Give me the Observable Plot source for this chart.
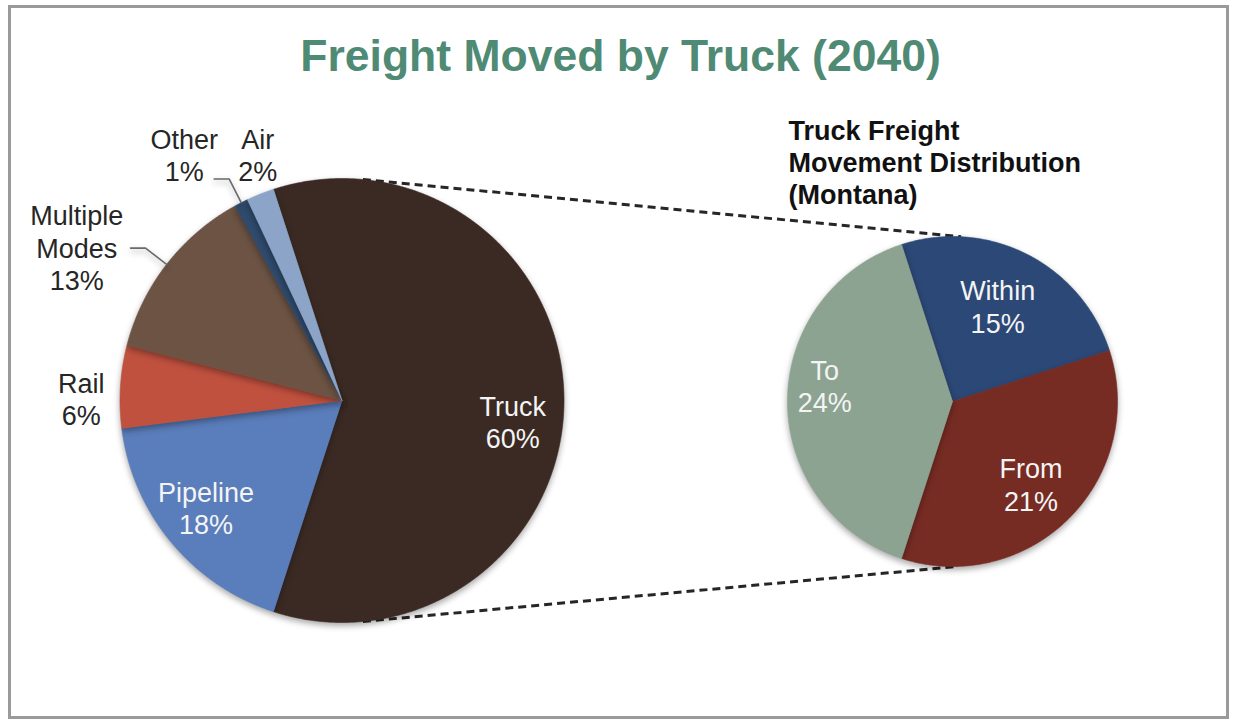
<!DOCTYPE html>
<html>
<head>
<meta charset="utf-8">
<script src="https://cdn.jsdelivr.net/npm/d3@7"></script>
<script src="https://cdn.jsdelivr.net/npm/@observablehq/plot@0.6"></script>
<style>
  html, body { margin: 0; padding: 0; background: #ffffff; }
  #chart svg { display: block; }
  .pies g[aria-label="line"] { filter: drop-shadow(0px 3px 3px rgba(0,0,0,0.35)); }
</style>
</head>
<body>
<div id="chart"></div>
<script>
// ---------- data ----------
const titleText = "Freight Moved by Truck (2040)";
const subtitleText = "Truck Freight\nMovement Distribution\n(Montana)";

const modes = ["Truck", "Pipeline", "Rail", "Multiple Modes", "Other", "Air"];
const modeShares = [60, 18, 6, 13, 1, 2];
const modeColors = ["#3b2a24", "#5a7dbb", "#c0513f", "#6c5344", "#2f4a6c", "#8ba4c7"];

const directions = ["Within", "From", "To"];
const directionShares = [15, 21, 24];
const directionColors = ["#2c4877", "#772c23", "#8da392"];

// ---------- layout ----------
const W = 1233, H = 721;
const FONT = "'Liberation Sans', Arial, Helvetica, sans-serif";
const LBL = 27;
const leftPie = {cx: 341.5, cy: 400, r: 222};
const rightPie = {cx: 952, cy: 401, r: 165};
const deg = Math.PI / 180;

// label placement: [radius factor, angle shift in degrees]
const modeLabelPlace = [[0.775, 7], [0.78, 1.4], [1.175, -3.2], [1.38, -7.8], [1.316, -5.7], [1.17, 2.7]];
const modeLeader = [false, false, false, true, true, false];
const directionLabelPlace = [[0.64, -1.7], [0.69, 1.4], [0.78, 7]];

// ---------- geometry from data ----------
const total = d3.sum(modeShares);
const startA = Math.PI / 2 - (modeShares[0] / total) * Math.PI; // split slice centred on the right
const pieGen = d3.pie().sort(null).startAngle(startA).endAngle(startA + 2 * Math.PI);

const pt = (pie, a, rr) => [pie.cx + rr * Math.sin(a), pie.cy - rr * Math.cos(a)];

function slicePoints(pie, arcs, keys, colors) {
  return arcs.map((a, i) => {
    const pts = [{x: pie.cx, y: pie.cy}];
    const n = Math.max(2, Math.ceil((a.endAngle - a.startAngle) / (0.4 * deg)));
    for (let k = 0; k <= n; k++) {
      const ang = a.startAngle + (a.endAngle - a.startAngle) * k / n;
      const [x, y] = pt(pie, ang, pie.r);
      pts.push({x, y});
    }
    pts.push({x: pie.cx, y: pie.cy});
    return {key: keys[i], color: colors[i], pts};
  });
}

const modeArcs = pieGen(modeShares);
const dirArcs = pieGen(directionShares);
const modeSlices = slicePoints(leftPie, modeArcs, modes, modeColors);
const dirSlices = slicePoints(rightPie, dirArcs, directions, directionColors);

const mid = a => (a.startAngle + a.endAngle) / 2;

const modeLabelData = modeArcs.map((a, i) => {
  const [f, s] = modeLabelPlace[i];
  const [x, y] = pt(leftPie, mid(a) + s * deg, leftPie.r * f);
  const inside = f < 1;
  return {x, y, text: modes[i].replace(" ", "\n") + "\n" + modeShares[i] + "%", fill: inside ? "#f4f4f4" : "#262626"};
});
const dirLabelData = dirArcs.map((a, i) => {
  const [f, s] = directionLabelPlace[i];
  const [x, y] = pt(rightPie, mid(a) + s * deg, rightPie.r * f);
  return {x, y, text: directions[i] + "\n" + directionShares[i] + "%", fill: "#f4f4f4"};
});
const labelData = modeLabelData.concat(dirLabelData);

// leader lines
const leaders = [];
modeArcs.forEach((a, i) => {
  if (!modeLeader[i]) return;
  const m = mid(a);
  const [x0, y0] = pt(leftPie, m, leftPie.r);
  const [x1, y1] = pt(leftPie, m, leftPie.r * 1.12);
  leaders.push({k: i, x: x0, y: y0}, {k: i, x: x1, y: y1}, {k: i, x: x1 - 15, y: y1});
});

// dashed connectors between pies
const conn = [
  (() => { const [x1, y1] = pt(leftPie, 5.4 * deg, leftPie.r); const [x2, y2] = pt(rightPie, 3 * deg, rightPie.r); return {x1, y1, x2, y2}; })(),
  (() => { const [x1, y1] = pt(leftPie, 174.6 * deg, leftPie.r); const [x2, y2] = pt(rightPie, 178 * deg, rightPie.r); return {x1, y1, x2, y2}; })()
];

const sliceMarks = modeSlices.concat(dirSlices).map(s =>
  Plot.line(s.pts, {x: "x", y: "y", fill: s.color, stroke: s.color, strokeWidth: 0.6, curve: "linear"})
);

const chart = Plot.plot({
  width: W, height: H,
  margin: 0,
  className: "pies",
  x: {domain: [0, W], range: [0, W], axis: null},
  y: {domain: [0, H], range: [0, H], axis: null},
  style: {background: "#ffffff", fontFamily: FONT},
  marks: [
    Plot.frame({stroke: "#9a9a9a", strokeWidth: 3, insetLeft: 9, insetTop: 6, insetRight: 6, insetBottom: 4}),
    Plot.link(conn, {x1: "x1", y1: "y1", x2: "x2", y2: "y2", stroke: "#262626", strokeWidth: 3, strokeDasharray: "8,5"}),
    ...sliceMarks,
    Plot.line(leaders, {x: "x", y: "y", z: "k", stroke: "#6a6a6a", strokeWidth: 1.6}),
    Plot.text(labelData, {x: "x", y: "y", text: "text", fill: "fill", fontSize: LBL, lineHeight: 1.2, fontFamily: FONT}),
    Plot.text([titleText], {x: () => 620, y: () => 56, text: d => d, fontSize: 44.5, fontWeight: "bold", fill: "#4f8a74", fontFamily: FONT}),
    Plot.text([subtitleText], {x: () => 788, y: () => 116, text: d => d, textAnchor: "start", lineAnchor: "top", fontSize: 27, lineHeight: 1.2, fontWeight: "bold", fill: "#111111", fontFamily: FONT})
  ]
});
document.getElementById("chart").appendChild(chart);
</script>
</body>
</html>
